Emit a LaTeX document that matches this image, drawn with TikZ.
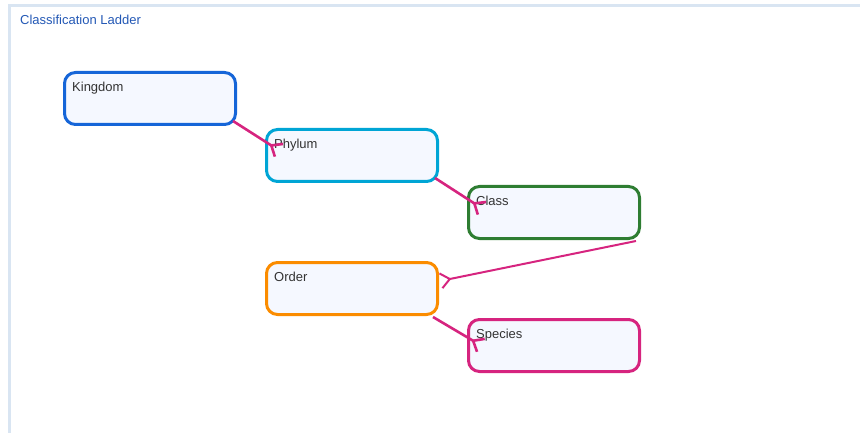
\documentclass[tikz,border=0pt]{standalone}
\usepackage{fontspec}
\setmainfont{Liberation Sans}
\usetikzlibrary{arrows.meta}
\definecolor{framecol}{HTML}{D9E5F2}
\definecolor{titlecol}{HTML}{2358B5}
\definecolor{boxfill}{HTML}{F5F8FF}
\definecolor{txtcol}{HTML}{333333}
\definecolor{kingdomcol}{HTML}{1565D8}
\definecolor{phylumcol}{HTML}{00A5D5}
\definecolor{classcol}{HTML}{2E7D32}
\definecolor{ordercol}{HTML}{FB8C00}
\definecolor{speciescol}{HTML}{D6247F}
\begin{document}
\begin{tikzpicture}[x=1pt,y=-1pt,
    rank/.style={draw=#1,line width=3pt,rounded corners=11pt,fill=boxfill,minimum width=171pt,minimum height=52pt},
    ranktxt/.style={anchor=north west,inner sep=0pt,font=\fontsize{13}{15}\selectfont,text=txtcol},
    link/.style={draw=speciescol,line width=2.6pt,-{Straight Barb[reversed,length=9pt,width=15pt]}}]
    \useasboundingbox (0,0) rectangle (860,433);
    \clip (0,0) rectangle (860,433);
    \draw[framecol,line width=3pt] (9.5,5.5) rectangle (900,480);
    \node[ranktxt,text=titlecol] (title) at (20,15) {Classification Ladder};
    \node[rank=kingdomcol] (kingdom) at (150,98.5) {};
    \node[rank=phylumcol] (phylum) at (352,155.5) {};
    \node[rank=classcol] (class) at (554,212.5) {};
    \node[rank=ordercol] (order) at (352,288.5) {};
    \node[rank=speciescol] (species) at (554,345.5) {};
    \node[ranktxt] (kingdomtxt) at ([shift={(9,11)}]kingdom.north west) {Kingdom};
    \node[ranktxt] (phylumtxt) at ([shift={(9,11)}]phylum.north west) {Phylum};
    \node[ranktxt] (classtxt) at ([shift={(9,11)}]class.north west) {Class};
    \node[ranktxt] (ordertxt) at ([shift={(9,11)}]order.north west) {Order};
    \node[ranktxt] (speciestxt) at ([shift={(9,11)}]species.north west) {Species};
    \draw[link] ([shift={(-4,-5)}]kingdom.south east) -- ([shift={(15,23)}]phylum.north west);
    \draw[link] ([shift={(-4,-5)}]phylum.south east) -- ([shift={(16,24)}]class.north west);
    \draw[link,line width=2pt] ([shift={(-5,1)}]class.south east) -- ([shift={(1,20)}]order.north east);
    \draw[link] ([shift={(-6,1)}]order.south east) -- ([shift={(15,28)}]species.north west);
\end{tikzpicture}
\end{document}
